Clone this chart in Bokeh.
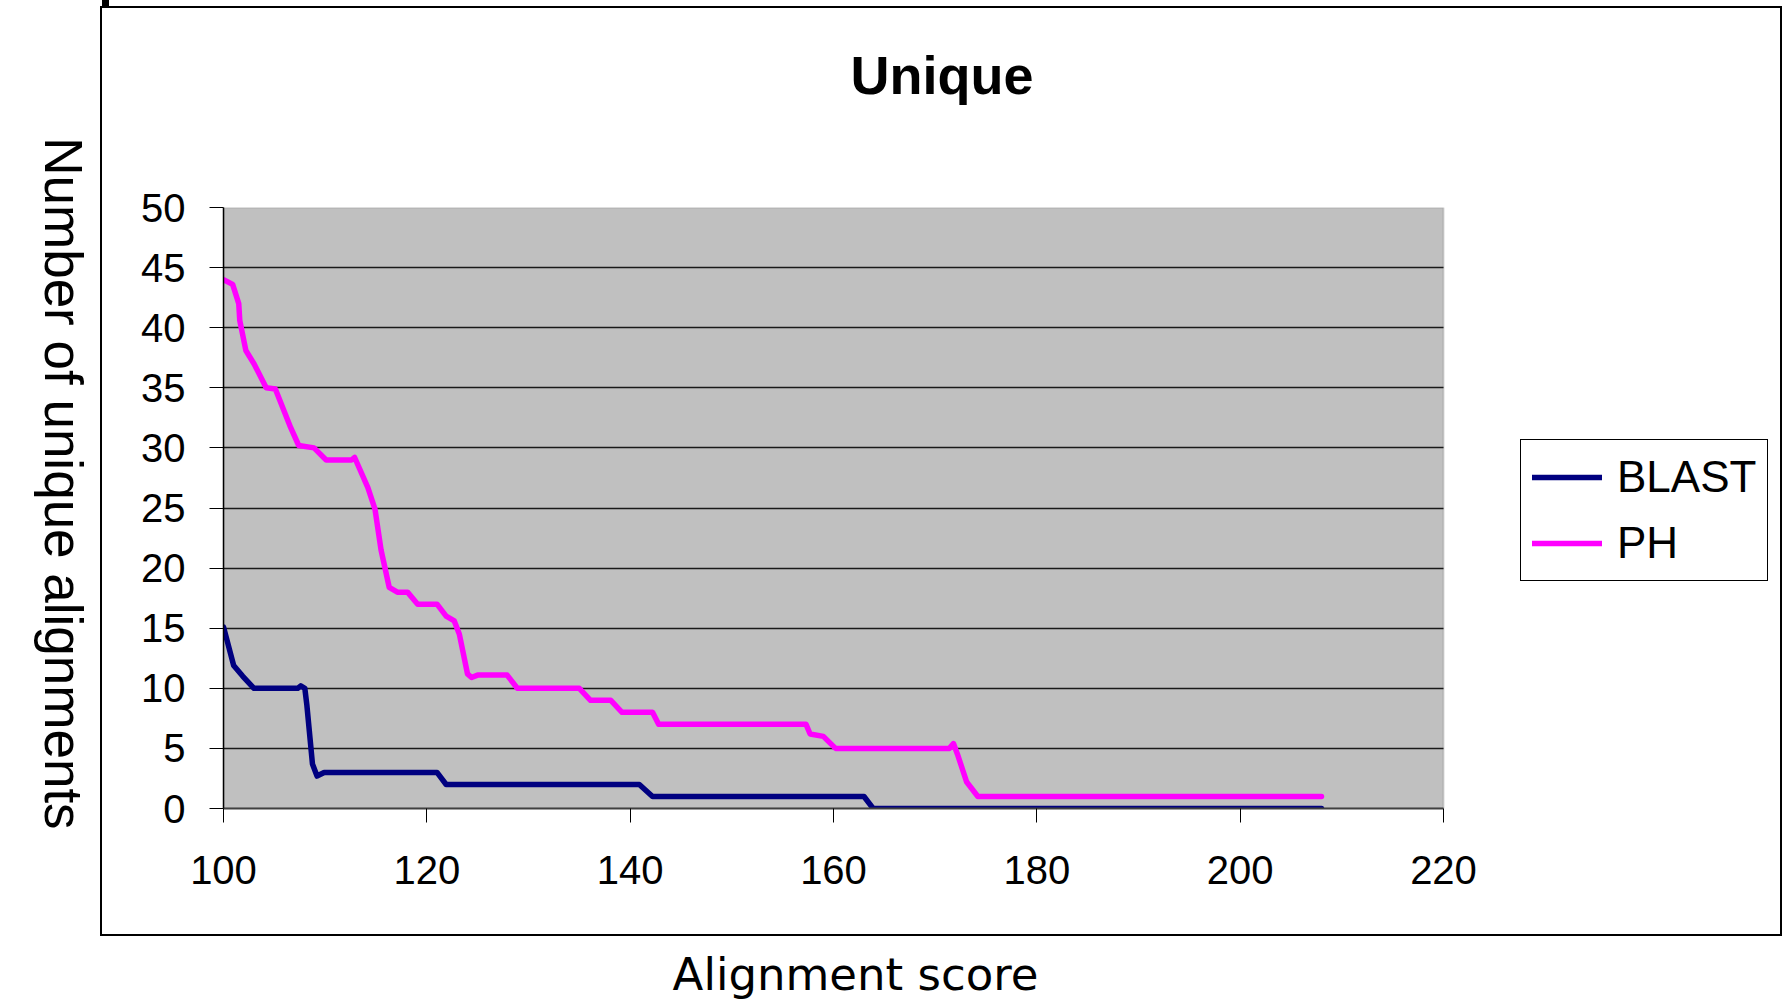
import math
from bokeh.plotting import figure
from bokeh.models import (Range1d, FixedTicker, Legend, LegendItem, Title, LinearAxis,
                          BoxAnnotation)
from bokeh.embed import file_html
from bokeh.resources import INLINE

# ---------------- data ----------------
title_text = "Unique"
x_label = "Alignment score"
y_label = "Number of unique alignments"
x_ticks = [100, 120, 140, 160, 180, 200, 220]
y_ticks = [0, 5, 10, 15, 20, 25, 30, 35, 40, 45, 50]
series_names = ["BLAST", "PH"]

blast_x = [100, 101.0, 101.9, 103.0, 107.3, 107.6, 108.0, 108.2, 108.75, 109.2, 109.9,
           121.0, 121.9, 140.9, 142.2, 163.0, 163.9, 208]
blast_y = [15.1, 11.9, 11.0, 10.0, 10.0, 10.2, 10.0, 8.6, 3.7, 2.7, 3.0,
           3.0, 2.0, 2.0, 1.0, 1.0, 0.0, 0.0]

ph_x = [100, 100.9, 101.5, 101.6, 102.2, 103.0, 104.2, 105.1, 106.6, 107.4, 108.9, 110.1,
        112.6, 112.9, 114.2, 114.9, 115.5, 116.3, 117.1, 118.1, 119.1, 121.0, 121.9, 122.7,
        123.2, 124.0, 124.4, 125.0, 127.9, 128.9, 135.0, 136.1, 138.1, 139.2, 142.2, 142.8,
        157.3, 157.7, 159.0, 160.2, 171.4, 171.8, 172.2, 173.1, 174.2, 208]
ph_y = [44.0, 43.6, 42.0, 40.6, 38.1, 37.0, 35.0, 34.9, 31.7, 30.2, 30.0, 29.0,
        29.0, 29.2, 26.7, 24.9, 21.5, 18.4, 18.0, 18.0, 17.0, 17.0, 16.0, 15.6,
        14.5, 11.2, 10.9, 11.1, 11.1, 10.0, 10.0, 9.0, 9.0, 8.0, 8.0, 7.0,
        7.0, 6.2, 6.0, 5.0, 5.0, 5.4, 4.5, 2.2, 1.0, 1.0]

# ---------------- geometry (page pixels) ----------------
W, H = 1787, 1008
FL, FT, FR, FB = 223, 207, 1443, 808            # grey plot area
BOX_L, BOX_T, BOX_R, BOX_B = 100, 6, 1782, 935  # outer chart box
LEG_L, LEG_B = 1520, 581                        # legend box left / bottom
AX_FONT = "Liberation Sans"
X0, X1 = x_ticks[0], x_ticks[-1]
Y0, Y1 = y_ticks[0], y_ticks[-1]
PX_PER_X = (FR - FL) / (X1 - X0)
# the drawing frame runs on to the outer box so that the legend can sit in it
X_FRAME_END = X0 + (BOX_R - FL) / PX_PER_X

# outer chart box drawn as CSS background lines behind the (transparent) canvas
segs = [(BOX_L, BOX_T, BOX_R - BOX_L, 2), (BOX_L, BOX_B - 1, BOX_R - BOX_L, 2),
        (BOX_L, BOX_T, 2, BOX_B - BOX_T), (BOX_R - 2, BOX_T, 2, BOX_B - BOX_T),
        (102, 0, 7, BOX_T)]
box_styles = {
    "background-color": "white",
    "background-image": ", ".join(["linear-gradient(#000, #000)"] * len(segs)),
    "background-size": ", ".join(f"{w}px {h}px" for (_, _, w, h) in segs),
    "background-position": ", ".join(f"{x}px {y}px" for (x, y, _, _) in segs),
    "background-repeat": "no-repeat",
}

p = figure(width=W, height=H, output_backend="svg", toolbar_location=None,
           title=None,
           x_range=Range1d(X0, X_FRAME_END), y_range=Range1d(Y0, Y1),
           min_border_left=FL, min_border_right=W - BOX_R,
           min_border_top=FT, min_border_bottom=H - FB,
           styles=box_styles)

p.background_fill_alpha = 0
p.border_fill_alpha = 0
p.outline_line_color = None

# grey plot area (spans the axis ranges) with its grey border
p.add_layout(BoxAnnotation(left=X0, right=X1, bottom=Y0, top=Y1,
                           fill_color="#C0C0C0", fill_alpha=1,
                           line_color="#808080", line_width=2, level="image"))

# title: an invisible spacer title keeps the real title away from the plot area
p.add_layout(Title(text=" ", text_font_size="1px", standoff=90), "above")
p.add_layout(Title(text=title_text, text_font=AX_FONT, text_font_size="54px",
                   text_font_style="bold", text_color="black",
                   align="left", offset=853 - FL - 3,
                   vertical_align="bottom", standoff=20), "above")

for ax in (p.xaxis[0], p.yaxis[0]):
    ax.major_label_text_font = AX_FONT
    ax.major_label_text_font_size = "40px"
    ax.major_label_text_color = "black"
    ax.major_tick_in = 0
    ax.major_tick_out = 14
    ax.major_tick_line_color = "black"
    ax.major_tick_line_width = 1
    ax.minor_tick_line_color = None

p.xaxis.ticker = FixedTicker(ticks=x_ticks)
p.yaxis.ticker = FixedTicker(ticks=y_ticks)
p.xaxis.bounds = (X0, X1)
p.xaxis.major_label_standoff = 33
p.yaxis.major_label_standoff = 24
p.xaxis.axis_line_color = "#404040"
p.xaxis.axis_line_width = 2
p.yaxis.axis_line_color = "black"
p.yaxis.axis_line_width = 1.5

# x-axis title: a bare axis whose single label is the title
XLAB_AT = X0 + (855 - FL) / PX_PER_X
xlab_axis = LinearAxis(ticker=FixedTicker(ticks=[XLAB_AT]),
                       major_label_overrides={XLAB_AT: x_label},
                       major_label_text_font="DejaVu Sans",
                       major_label_text_font_size="45px",
                       major_label_text_color="black",
                       major_label_standoff=61,
                       axis_line_color=None, major_tick_line_color=None,
                       minor_tick_line_color=None, major_tick_in=0, major_tick_out=0)
p.add_layout(xlab_axis, "below")

# y-axis title, reading top-to-bottom: a bare axis whose single label is the title
YLAB_AT = 21
ylab_axis = LinearAxis(ticker=FixedTicker(ticks=[YLAB_AT]),
                       major_label_overrides={YLAB_AT: y_label},
                       major_label_orientation=-math.pi / 2,
                       major_label_text_font=AX_FONT,
                       major_label_text_font_size="53px",
                       major_label_text_color="black",
                       major_label_standoff=75,
                       axis_line_color=None, major_tick_line_color=None,
                       minor_tick_line_color=None, major_tick_in=0, major_tick_out=0)
p.add_layout(ylab_axis, "left")

p.xgrid.visible = False
ygrid = p.ygrid[0]
ygrid.ticker = FixedTicker(ticks=y_ticks[:-1])
ygrid.grid_line_color = "#1a1a1a"
ygrid.grid_line_width = 1.5
if "cross_bounds" in ygrid.properties():
    ygrid.cross_bounds = (X0, X1)
else:
    # keep the grid lines inside the grey area: white cover over the frame's right part
    p.add_layout(BoxAnnotation(left=X1 + 1.5 / PX_PER_X,
                               right=X1 + (BOX_R - 3 - FR) / PX_PER_X,
                               bottom=Y0, top=Y1, fill_color="white", fill_alpha=1,
                               line_alpha=0, level="underlay"))

r_blast = p.line(blast_x, blast_y, line_color="#000080", line_width=5.5,
                 line_join="round", line_cap="round")
r_ph = p.line(ph_x, ph_y, line_color="#FF00FF", line_width=5.5,
              line_join="round", line_cap="round")

legend = Legend(items=[LegendItem(label=series_names[0], renderers=[r_blast]),
                       LegendItem(label=series_names[1], renderers=[r_ph])],
                location=(LEG_L - FL, FB - LEG_B),
                margin=0, padding=11, spacing=14,
                glyph_width=70, glyph_height=52, label_height=52,
                label_standoff=15,
                label_text_font=AX_FONT, label_text_font_size="44px",
                label_text_color="black",
                border_line_color="black", border_line_width=1.5, border_line_alpha=1,
                background_fill_color="white", background_fill_alpha=1.0)
p.add_layout(legend)

open("out.html", "w").write(file_html(p, INLINE))
